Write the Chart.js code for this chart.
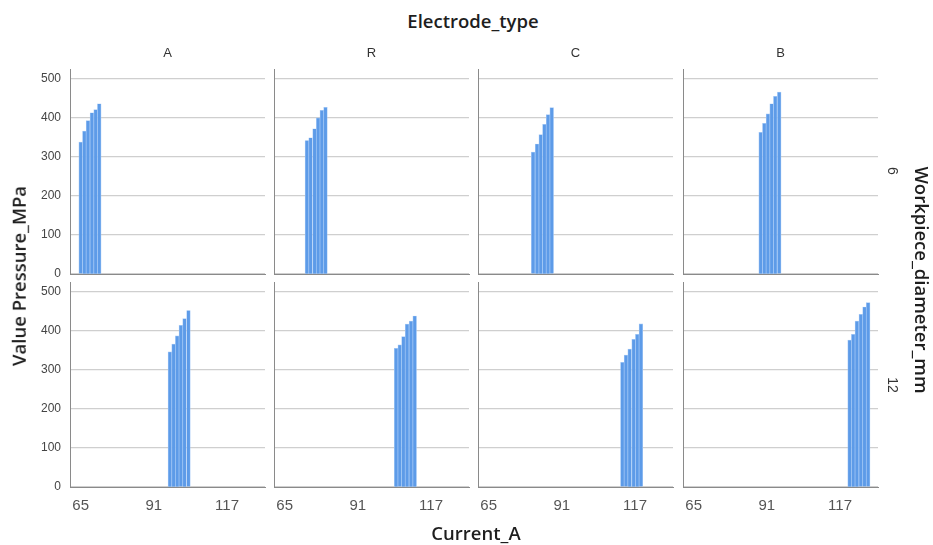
<!DOCTYPE html>
<html><head><meta charset="utf-8">
<script src="https://cdn.jsdelivr.net/npm/chart.js@4/dist/chart.umd.min.js"></script>
<style>
body{margin:0;width:933px;height:545px;background:#fff;position:relative;overflow:hidden;font-family:"Liberation Sans",Arial,sans-serif;}
.lbl{position:absolute;white-space:nowrap;color:#222;line-height:1;}
.ttl{font-family:"Open Sans","Liberation Sans",sans-serif;font-weight:600;font-size:18.5px;color:#1e1e1e;}
canvas{position:absolute;}
</style></head><body>
<script>
// ---- data ----
const electrodeTypes = ['A', 'R', 'C', 'B'];
const diameters = ['6', '12'];
const xTicks = [65, 91, 117];
const yTicks = [0, 100, 200, 300, 400, 500];

const currentA6 = [65.0, 66.3, 67.6, 69.0, 70.3, 71.6];
const pressureA6 = [338, 366, 393, 413, 421, 436];
const currentR6 = [72.9, 74.2, 75.6, 76.9, 78.2, 79.5];
const pressureR6 = [342, 349, 372, 400, 419, 427];
const currentC6 = [80.8, 82.2, 83.5, 84.8, 86.1, 87.4];
const pressureC6 = [312, 333, 357, 383, 408, 426];
const currentB6 = [88.8, 90.1, 91.4, 92.7, 94.0, 95.4];
const pressureB6 = [363, 386, 410, 436, 455, 466];

const currentA12 = [96.7, 98.0, 99.3, 100.6, 101.9, 103.3];
const pressureA12 = [346, 366, 387, 414, 431, 452];
const currentR12 = [104.6, 105.9, 107.2, 108.5, 109.9, 111.2];
const pressureR12 = [355, 364, 385, 417, 425, 438];
const currentC12 = [112.5, 113.8, 115.1, 116.5, 117.8, 119.1];
const pressureC12 = [319, 338, 353, 378, 391, 418];
const currentB12 = [120.4, 121.7, 123.0, 124.4, 125.7, 127.0];
const pressureB12 = [376, 391, 425, 442, 461, 472];

const panelData = [
  [[currentA6, pressureA6], [currentR6, pressureR6], [currentC6, pressureC6], [currentB6, pressureB6]],
  [[currentA12, pressureA12], [currentR12, pressureR12], [currentC12, pressureC12], [currentB12, pressureB12]]
];

// ---- layout ----
const colLeft = [70, 274, 478, 683];
const rowTop = [68.5, 282];
const PW = 195, PH = 205;
const P = 22;
const X_MIN = 61.2, X_MAX = 130.5, Y_MAX = 525;

function addLabel(text, css, cls) {
  const d = document.createElement('div');
  d.className = 'lbl' + (cls ? ' ' + cls : '');
  d.textContent = text;
  Object.assign(d.style, css);
  document.body.appendChild(d);
  return d;
}

function makePanel(row, col, xs, ys) {
  const axisW = col === 0 ? 46 : 0;
  const axisH = row === 1 ? 34 : 0;
  const c = document.createElement('canvas');
  const w = P + axisW + PW + P, h = P + PH + axisH + P;
  c.width = w; c.height = h;
  c.style.width = w + 'px'; c.style.height = h + 'px';
  c.style.left = (colLeft[col] - axisW - P) + 'px';
  c.style.top = (rowTop[row] - P) + 'px';
  document.body.appendChild(c);
  new Chart(c, {
    type: 'bar',
    data: {
      datasets: [{
        data: xs.map((x, i) => ({x: x, y: ys[i]})),
        backgroundColor: '#5d9be8',
        borderColor: 'rgba(160,198,246,0.95)',
        borderWidth: 0.7,
        barPercentage: 1,
        categoryPercentage: 1
      }]
    },
    options: {
      responsive: false,
      animation: false,
      events: [],
      layout: {padding: {top: P, right: P, bottom: P, left: P}},
      plugins: {legend: {display: false}, tooltip: {enabled: false}},
      scales: {
        x: {
          type: 'linear', min: X_MIN, max: X_MAX, offset: false,
          grid: {display: false, drawTicks: false},
          border: {display: true, color: '#8a8a8a', width: 1},
          ticks: {display: row === 1, padding: 10, color: '#555', font: {family: 'Liberation Sans', size: 15}},
          afterBuildTicks: s => { s.ticks = xTicks.map(v => ({value: v})); },
          afterFit: s => { s.height = axisH; }
        },
        y: {
          min: 0, max: Y_MAX,
          grid: {color: '#cfcfcf', lineWidth: 1.2, drawTicks: false},
          border: {display: true, color: '#8a8a8a', width: 1},
          ticks: {display: col === 0, padding: 9, color: '#444', font: {family: 'Liberation Sans', size: 12}},
          afterBuildTicks: s => { s.ticks = yTicks.map(v => ({value: v})); },
          afterFit: s => { s.width = axisW; }
        }
      }
    }
  });
}

for (let r = 0; r < diameters.length; r++) {
  for (let c = 0; c < electrodeTypes.length; c++) {
    makePanel(r, c, panelData[r][c][0], panelData[r][c][1]);
  }
}

// column strip labels
electrodeTypes.forEach((t, i) => {
  addLabel(t, {fontSize: '13px', color: '#333', top: '46px', width: PW + 'px', textAlign: 'center', left: colLeft[i] + 'px'});
});
// row strip labels (rotated)
diameters.forEach((t, i) => {
  addLabel(t, {fontSize: '14px', color: '#333', left: '893px', top: (rowTop[i] + PH / 2) + 'px', transform: 'translate(-50%,-50%) rotate(90deg)'});
});
// titles
addLabel('Electrode_type', {left: '473px', top: '21px', transform: 'translate(-50%,-50%)'}, 'ttl');
addLabel('Current_A', {left: '476px', top: '533px', transform: 'translate(-50%,-50%)'}, 'ttl');
addLabel('Value Pressure_MPa', {left: '19px', top: '276px', transform: 'translate(-50%,-50%) rotate(-90deg)'}, 'ttl');
addLabel('Workpiece_diameter_mm', {left: '922px', top: '280px', transform: 'translate(-50%,-50%) rotate(90deg)'}, 'ttl');
</script>
</body></html>
